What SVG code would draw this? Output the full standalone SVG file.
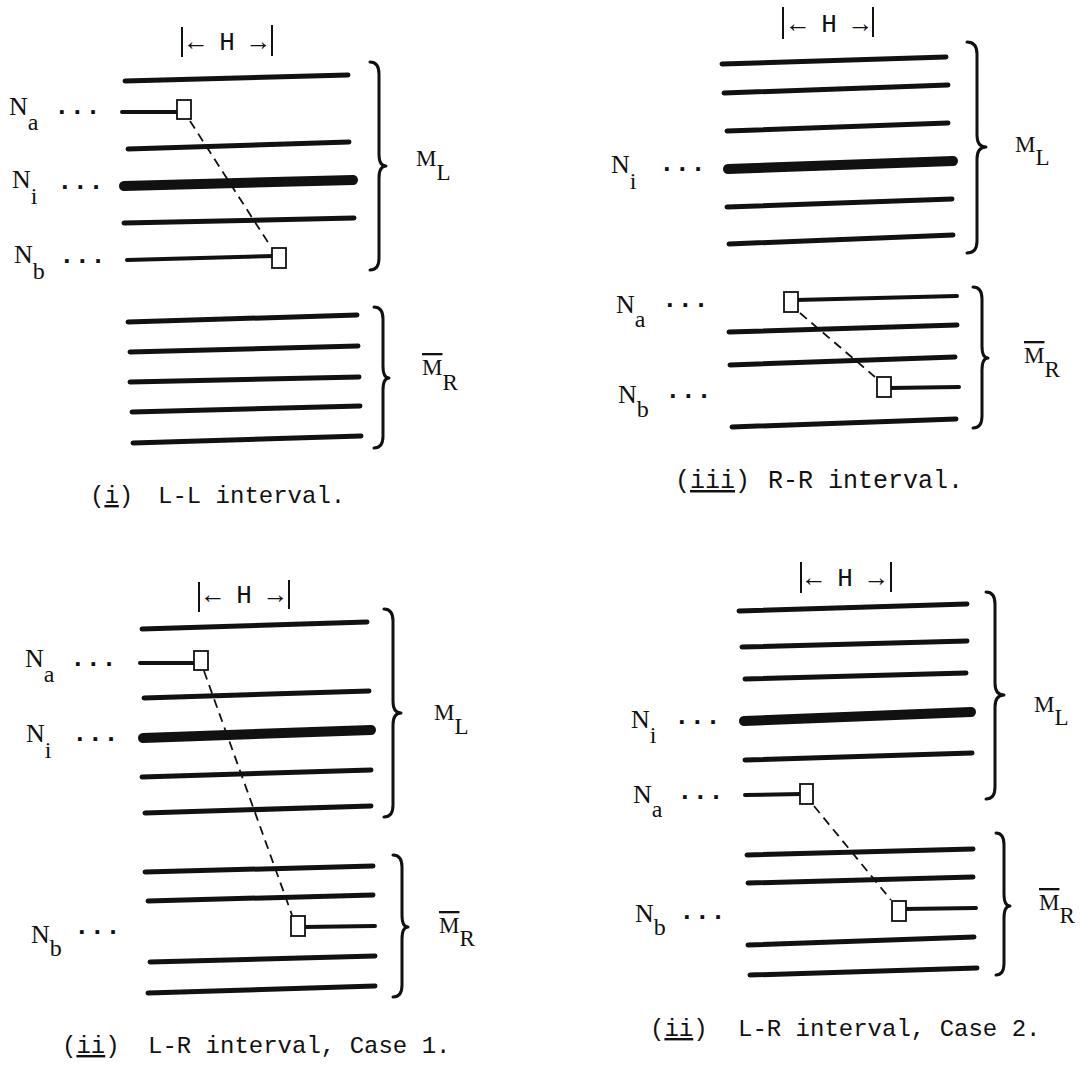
<svg xmlns="http://www.w3.org/2000/svg" width="1090" height="1068" viewBox="0 0 1090 1068">
<style>
.ln{stroke:#111;stroke-width:5;stroke-linecap:round;fill:none}
.thick{stroke-width:10}
.stub{stroke-width:4}
.box{fill:#fff;stroke:#111;stroke-width:1.8}
.brace{fill:none;stroke:#111;stroke-width:3;stroke-linecap:round;stroke-linejoin:round}
.dash{fill:none;stroke:#111;stroke-width:1.8;stroke-dasharray:9 6}
.bar{stroke:#111;stroke-width:2}
.lbl{font-family:"Liberation Serif","DejaVu Serif",serif;font-size:26px;fill:#111}
.lbl .s{font-size:24px}
.m{font-family:"Liberation Serif","DejaVu Serif",serif;font-size:23px;fill:#111}
.m .s{font-size:23px}
.ov{text-decoration:overline}
.dots{font-family:"Liberation Mono","DejaVu Sans Mono",monospace;font-size:26px;font-weight:bold;fill:#111}
.h{font-family:"Liberation Mono","DejaVu Sans Mono",monospace;font-size:26px;fill:#111;text-anchor:middle}
.cap{font-family:"Liberation Mono","DejaVu Sans Mono",monospace;font-size:24px;fill:#111}
.ul{text-decoration:underline}
</style>

<!-- Panel (i) L-L interval -->
<g id="panel-i">
  <g id="i-H">
    <line class="bar" x1="182" y1="27" x2="182" y2="57"/>
    <line class="bar" x1="272" y1="25" x2="272" y2="56"/>
    <text class="h" x="227" y="50">← H →</text>
  </g>
  <g id="i-ML">
    <line class="ln" x1="125" y1="81" x2="348" y2="75"/>
    <line class="ln" x1="128" y1="149" x2="349" y2="142"/>
    <line class="ln thick" x1="124" y1="186" x2="353" y2="180"/>
    <line class="ln" x1="124" y1="223" x2="354" y2="218"/>
    <path class="brace" d="M370 62 Q379 62 379 74 L379 154 Q379 166 386 166 Q379 166 379 178 L379 258 Q379 270 370 270"/>
    <text class="m" x="416" y="166">M<tspan class="s" dy="14">L</tspan></text>
  </g>
  <g id="i-Na">
    <line class="ln stub" x1="122" y1="112" x2="180" y2="112"/>
    <rect class="box" x="177" y="100" width="14" height="19"/>
    <text class="lbl" x="9" y="115">N<tspan class="s" dy="15">a</tspan></text>
    <text class="dots" x="54" y="114">...</text>
  </g>
  <g id="i-Ni">
    <text class="lbl" x="12" y="188">N<tspan class="s" dy="16">i</tspan></text>
    <text class="dots" x="57" y="189">...</text>
  </g>
  <g id="i-Nb">
    <line class="ln stub" x1="127" y1="260" x2="274" y2="256"/>
    <rect class="box" x="272" y="248" width="14" height="20"/>
    <text class="lbl" x="14" y="263">N<tspan class="s" dy="16">b</tspan></text>
    <text class="dots" x="59" y="263">...</text>
  </g>
  <g id="i-MR">
    <line class="ln" x1="128" y1="322" x2="357" y2="315"/>
    <line class="ln" x1="130" y1="352" x2="358" y2="346"/>
    <line class="ln" x1="130" y1="382" x2="359" y2="377"/>
    <line class="ln" x1="132" y1="412" x2="360" y2="406"/>
    <line class="ln" x1="133" y1="443" x2="361" y2="436"/>
    <path class="brace" d="M374 307 Q383 307 383 319 L383 366 Q383 378 389 378 Q383 378 383 390 L383 436 Q383 448 374 448"/>
    <text class="m" x="422" y="375"><tspan class="ov">M</tspan><tspan class="s" dy="15">R</tspan></text>
  </g>
  <text id="i-caption" class="cap" x="90" y="503">(<tspan class="ul">i</tspan>) <tspan x="158">L-L interval.</tspan></text>
</g>

<!-- Panel (iii) R-R interval -->
<g id="panel-iii">
  <g id="iii-H">
    <line class="bar" x1="783" y1="7" x2="783" y2="39"/>
    <line class="bar" x1="873" y1="7" x2="873" y2="37"/>
    <text class="h" x="829" y="32">← H →</text>
  </g>
  <g id="iii-ML">
    <line class="ln" x1="722" y1="64" x2="946" y2="57"/>
    <line class="ln" x1="724" y1="93" x2="948" y2="85"/>
    <line class="ln" x1="727" y1="131" x2="948" y2="123"/>
    <line class="ln thick" x1="728" y1="169" x2="953" y2="161"/>
    <line class="ln" x1="727" y1="207" x2="952" y2="199"/>
    <line class="ln" x1="729" y1="244" x2="953" y2="235"/>
    <path class="brace" d="M967 42 Q977 42 977 54 L977 135 Q977 147 986 147 Q977 147 977 159 L977 241 Q977 253 967 253"/>
    <text class="m" x="1015" y="152">M<tspan class="s" dy="13">L</tspan></text>
  </g>
  <g id="iii-Ni">
    <text class="lbl" x="611" y="173">N<tspan class="s" dy="16">i</tspan></text>
    <text class="dots" x="659" y="171">...</text>
  </g>
  <g id="iii-Na">
    <line class="ln stub" x1="796" y1="300" x2="957" y2="296"/>
    <rect class="box" x="784" y="292" width="14" height="20"/>
    <text class="lbl" x="616" y="313">N<tspan class="s" dy="14">a</tspan></text>
    <text class="dots" x="662" y="307">...</text>
  </g>
  <g id="iii-Nb">
    <line class="ln stub" x1="889" y1="388" x2="959" y2="387"/>
    <rect class="box" x="877" y="377" width="14" height="20"/>
    <text class="lbl" x="618" y="403">N<tspan class="s" dy="14">b</tspan></text>
    <text class="dots" x="665" y="398">...</text>
  </g>
  <g id="iii-MR">
    <line class="ln" x1="729" y1="332" x2="957" y2="325"/>
    <line class="ln" x1="730" y1="365" x2="955" y2="357"/>
    <line class="ln" x1="732" y1="427" x2="956" y2="419"/>
    <path class="brace" d="M973 287 Q982 287 982 299 L982 346 Q982 358 988 358 Q982 358 982 370 L982 416 Q982 428 973 428"/>
    <text class="m" x="1024" y="363"><tspan class="ov">M</tspan><tspan class="s" dy="14">R</tspan></text>
  </g>
  <text id="iii-caption" class="cap" x="675" y="488" style="font-size:25px">(<tspan class="ul">iii</tspan>) <tspan x="768">R-R interval.</tspan></text>
</g>

<!-- Panel (ii) L-R interval, Case 1 -->
<g id="panel-ii-1">
  <g id="c1-H">
    <line class="bar" x1="199" y1="582" x2="199" y2="612"/>
    <line class="bar" x1="289" y1="580" x2="289" y2="609"/>
    <text class="h" x="244" y="603">← H →</text>
  </g>
  <g id="c1-ML">
    <line class="ln" x1="142" y1="629" x2="367" y2="622"/>
    <line class="ln" x1="144" y1="698" x2="369" y2="691"/>
    <line class="ln thick" x1="143" y1="738" x2="371" y2="730"/>
    <line class="ln" x1="142" y1="777" x2="371" y2="770"/>
    <line class="ln" x1="145" y1="813" x2="371" y2="806"/>
    <path class="brace" d="M384 609 Q393 609 393 621 L393 701 Q393 713 401 713 Q393 713 393 725 L393 805 Q393 817 384 817"/>
    <text class="m" x="434" y="720">M<tspan class="s" dy="14">L</tspan></text>
  </g>
  <g id="c1-Na">
    <line class="ln stub" x1="140" y1="663" x2="197" y2="663"/>
    <rect class="box" x="194" y="651" width="14" height="19"/>
    <text class="lbl" x="25" y="667">N<tspan class="s" dy="15">a</tspan></text>
    <text class="dots" x="70" y="666">...</text>
  </g>
  <g id="c1-Ni">
    <text class="lbl" x="26" y="742">N<tspan class="s" dy="16">i</tspan></text>
    <text class="dots" x="72" y="741">...</text>
  </g>
  <g id="c1-Nb">
    <line class="ln stub" x1="303" y1="927" x2="375" y2="926"/>
    <rect class="box" x="291" y="916" width="14" height="20"/>
    <text class="lbl" x="31" y="943">N<tspan class="s" dy="13">b</tspan></text>
    <text class="dots" x="74" y="934">...</text>
  </g>
  <g id="c1-MR">
    <line class="ln" x1="145" y1="872" x2="373" y2="866"/>
    <line class="ln" x1="148" y1="901" x2="373" y2="895"/>
    <line class="ln" x1="150" y1="962" x2="375" y2="956"/>
    <line class="ln" x1="148" y1="993" x2="375" y2="986"/>
    <path class="brace" d="M393 855 Q402 855 402 867 L402 915 Q402 927 408 927 Q402 927 402 939 L402 985 Q402 997 393 997"/>
    <text class="m" x="439" y="933"><tspan class="ov">M</tspan><tspan class="s" dy="13">R</tspan></text>
  </g>
  <text id="c1-caption" class="cap" x="62" y="1053">(<tspan class="ul">ii</tspan>) <tspan x="148">L-R interval, Case 1.</tspan></text>
</g>

<!-- Panel (ii) L-R interval, Case 2 -->
<g id="panel-ii-2">
  <g id="c2-H">
    <line class="bar" x1="801" y1="562" x2="801" y2="593"/>
    <line class="bar" x1="891" y1="562" x2="891" y2="592"/>
    <text class="h" x="845" y="586">← H →</text>
  </g>
  <g id="c2-ML">
    <line class="ln" x1="739" y1="611" x2="967" y2="604"/>
    <line class="ln" x1="742" y1="647" x2="967" y2="641"/>
    <line class="ln" x1="745" y1="679" x2="966" y2="673"/>
    <line class="ln thick" x1="744" y1="721" x2="971" y2="712"/>
    <line class="ln" x1="745" y1="760" x2="972" y2="753"/>
    <path class="brace" d="M986 592 Q995 592 995 604 L995 683 Q995 695 1004 695 Q995 695 995 707 L995 787 Q995 799 986 799"/>
    <text class="m" x="1034" y="712">M<tspan class="s" dy="13">L</tspan></text>
  </g>
  <g id="c2-Ni">
    <text class="lbl" x="631" y="728">N<tspan class="s" dy="15">i</tspan></text>
    <text class="dots" x="674" y="724">...</text>
  </g>
  <g id="c2-Na">
    <line class="ln stub" x1="745" y1="795" x2="802" y2="794"/>
    <rect class="box" x="800" y="784" width="13" height="20"/>
    <text class="lbl" x="633" y="803">N<tspan class="s" dy="14">a</tspan></text>
    <text class="dots" x="677" y="799">...</text>
  </g>
  <g id="c2-Nb">
    <line class="ln stub" x1="904" y1="909" x2="976" y2="908"/>
    <rect class="box" x="892" y="901" width="14" height="20"/>
    <text class="lbl" x="635" y="922">N<tspan class="s" dy="13">b</tspan></text>
    <text class="dots" x="679" y="919">...</text>
  </g>
  <g id="c2-MR">
    <line class="ln" x1="747" y1="855" x2="973" y2="849"/>
    <line class="ln" x1="748" y1="883" x2="973" y2="877"/>
    <line class="ln" x1="748" y1="945" x2="974" y2="937"/>
    <line class="ln" x1="750" y1="975" x2="977" y2="968"/>
    <path class="brace" d="M996 833 Q1004 833 1004 845 L1004 894 Q1004 906 1010 906 Q1004 906 1004 918 L1004 963 Q1004 975 996 975"/>
    <text class="m" x="1039" y="910"><tspan class="ov">M</tspan><tspan class="s" dy="13">R</tspan></text>
  </g>
  <text id="c2-caption" class="cap" x="650" y="1036">(<tspan class="ul">ii</tspan>) <tspan x="738">L-R interval, Case 2.</tspan></text>
</g>

<!-- Connectors: dashed links between the two boxes -->
<g id="connectors">
  <line class="dash" x1="190" y1="121" x2="271" y2="247"/>
  <line class="dash" x1="800" y1="313" x2="875" y2="377"/>
  <line class="dash" x1="204" y1="671" x2="292" y2="915"/>
  <line class="dash" x1="814" y1="806" x2="891" y2="900"/>
</g>
</svg>
